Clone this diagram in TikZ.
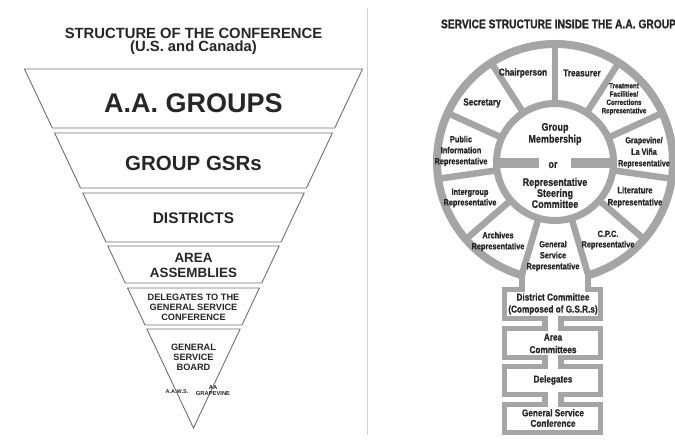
\documentclass[tikz,border=0pt]{standalone}
\usepackage{fontspec}
\setmainfont{Liberation Sans}
\newfontfamily\narfont{Liberation Sans}[FakeStretch=0.82, BoldFeatures={FakeBold=0.8}]
\usetikzlibrary{calc}
\definecolor{ringgray}{HTML}{A5A5A5}
\definecolor{ink}{HTML}{262626}
\definecolor{fline}{HTML}{707070}
\definecolor{sepline}{HTML}{D0D0D0}
\newcommand{\fsz}[2]{\fontsize{#1}{#2}\selectfont}
\begin{document}
\begin{tikzpicture}[x=1pt,y=1pt,
  lab/.style={text=ink, align=center, inner sep=0pt},
  funnel/.style={draw=fline, line width=0.9pt, line join=miter},
  ringline/.style={draw=ringgray},
  boxline/.style={draw=ringgray, line width=5.5pt, line join=miter},
]
\useasboundingbox (0,0) rectangle (675,442);
\fill[white] (0,0) rectangle (675,442);

% ---------- left: funnel ----------
\foreach \t/\b in {69/128,133/188,193/242,246/283,288/325} {
  \draw[funnel] ({193.5-0.4708*(428-\t)},{442-\t}) -- ({193.5+0.4708*(428-\t)},{442-\t})
     -- ({193.5+0.4708*(428-\b)},{442-\b}) -- ({193.5-0.4708*(428-\b)},{442-\b}) -- cycle;
}
\draw[funnel] ({193.5-0.4708*(428-329)},{442-329}) -- ({193.5+0.4708*(428-329)},{442-329})
   -- (193.5,14) -- cycle;

\node[lab, font=\bfseries\fsz{14.8}{15}] (t1) at (193.5,409) {STRUCTURE OF THE CONFERENCE};
\node[lab, font=\bfseries\fsz{14.8}{15}] (t2) at (193.5,394) {(U.S. and Canada)};
\node[lab, font=\bfseries\fsz{27}{28}] (groups) at (193.5,339) {A.A. GROUPS};
\node[lab, font=\bfseries\fsz{20.5}{21}] (gsrs) at (193.5,279) {GROUP GSRs};
\node[lab, font=\bfseries\fsz{15.4}{16}] (districts) at (193.5,224) {DISTRICTS};
\node[lab, font=\bfseries\fsz{13.4}{15}] (areas) at (193.5,176.5) {AREA\\ASSEMBLIES};
\node[lab, font=\bfseries\fsz{9.2}{10}] (dels) at (193.5,135) {DELEGATES TO THE\\GENERAL SERVICE\\CONFERENCE};
\node[lab, font=\bfseries\fsz{9.2}{10}] (gsb) at (193.5,85) {GENERAL\\SERVICE\\BOARD};
\node[lab, font=\bfseries\fsz{5.5}{6}] (aaws) at (177,50) {A.A.W.S.};
\node[lab, font=\bfseries\fsz{5.8}{6}] (grape) at (213,51) {AA\\GRAPEVINE};

% ---------- separator ----------
\draw[draw=sepline, line width=1pt] (367,7) -- (367,434);

% ---------- right: wheel ----------
\coordinate (C) at (555,280);
\foreach \k in {0,...,10} {
  \pgfmathsetmacro\ang{90-\k*32.7273}
  \draw[ringline, line width=6.5pt] ($(C)+(\ang:58.5)$) -- ($(C)+(\ang:118)$);
}
\draw[ringline, line width=8pt] ($(C)+(-73.6364:118)$) arc[start angle=-73.6364, end angle=253.6364, radius=118];
\draw[ringline, line width=7pt] (C) circle[radius=58.5];
\draw[ringline, line width=10pt] (496.5,279) -- (539,279);
\draw[ringline, line width=10pt] (571,279) -- (613.5,279);

% stem and boxes
\draw[boxline] (521.76,168) -- (521.76,152.5) -- (504.5,152.5) -- (504.5,123.5) -- (545,123.5)
  -- (545,113.5) -- (504.5,113.5) -- (504.5,84.5) -- (545,84.5) -- (545,75.5) -- (504.5,75.5)
  -- (504.5,47.5) -- (545,47.5) -- (545,37.5) -- (504.5,37.5) -- (504.5,9.5) -- (600.5,9.5)
  -- (600.5,37.5) -- (561,37.5) -- (561,47.5) -- (600.5,47.5) -- (600.5,75.5) -- (561,75.5)
  -- (561,84.5) -- (600.5,84.5) -- (600.5,113.5) -- (561,113.5) -- (561,123.5) -- (600.5,123.5)
  -- (600.5,152.5) -- (588.24,152.5) -- (588.24,168);

\node[lab, font=\narfont\bfseries\fsz{12.5}{13}] (rtitle) at (558.5,418) {SERVICE STRUCTURE INSIDE THE A.A. GROUP};

\node[lab, font=\narfont\bfseries\fsz{10}{11}] (chair) at (523,369) {Chairperson};
\node[lab, font=\narfont\bfseries\fsz{10}{11}] (treas) at (582,369) {Treasurer};
\node[lab, font=\narfont\bfseries\fsz{10}{11}] (secr) at (482,339) {Secretary};
\node[lab, font=\narfont\bfseries\fsz{7.6}{8.3}] (treat) at (624,343) {Treatment\\Facilities/\\Corrections\\Representative};
\node[lab, font=\narfont\bfseries\fsz{8.8}{11.5}] (grapev) at (644,289.5) {Grapevine/\\La Viña\\Representative};
\node[lab, font=\narfont\bfseries\fsz{9.3}{12}] (lit) at (635,245) {Literature\\Representative};
\node[lab, font=\narfont\bfseries\fsz{9}{10.5}] (cpc) at (608,202) {C.P.C.\\Representative};
\node[lab, font=\narfont\bfseries\fsz{9}{11}] (gsr) at (553,186) {General\\Service\\Representative};
\node[lab, font=\narfont\bfseries\fsz{9}{11}] (arch) at (498,200.5) {Archives\\Representative};
\node[lab, font=\narfont\bfseries\fsz{9}{10.5}] (inter) at (470,244) {Intergroup\\Representative};
\node[lab, font=\narfont\bfseries\fsz{9}{11}] (pubinfo) at (461,291) {Public\\Information\\Representative};

\node[lab, font=\narfont\bfseries\fsz{11}{12}] (member) at (555,308) {Group\\Membership};
\node[lab, font=\narfont\bfseries\fsz{11}{12}] (or) at (553,277) {or};
\node[lab, font=\narfont\bfseries\fsz{11}{11}] (steer) at (555,249) {Representative\\Steering\\Committee};

\node[lab, font=\narfont\bfseries\fsz{10}{12}] (dc) at (553,138) {District Committee\\(Composed of G.S.R.s)};
\node[lab, font=\narfont\bfseries\fsz{10}{12.5}] (ac) at (553,98.5) {Area\\Committees};
\node[lab, font=\narfont\bfseries\fsz{10}{12}] (dg) at (553,62) {Delegates};
\node[lab, font=\narfont\bfseries\fsz{10}{10.5}] (gsc) at (553,24) {General Service\\Conference};
\end{tikzpicture}
\end{document}
